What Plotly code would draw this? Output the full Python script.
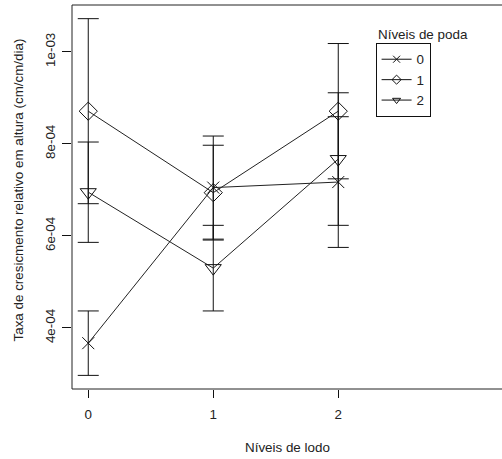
import plotly.graph_objects as go

# ---- data ----
lodo_levels = [0, 1, 2]
poda_labels = ["0", "1", "2"]
mean_poda0 = [3.67e-4, 7.05e-4, 7.17e-4]
err_poda0 = [0.70e-4, 1.12e-4, 1.42e-4]
mean_poda1 = [8.71e-4, 6.94e-4, 8.71e-4]
err_poda1 = [2.01e-4, 1.03e-4, 1.47e-4]
mean_poda2 = [6.95e-4, 5.30e-4, 7.67e-4]
err_poda2 = [1.09e-4, 0.93e-4, 1.44e-4]
y_tickvals = [4e-4, 6e-4, 8e-4, 1e-3]
y_ticktext = ["4e-04", "6e-04", "8e-04", "1e-03"]
x_tickvals = [0, 1, 2]
x_ticktext = ["0", "1", "2"]

series = [
    (poda_labels[0], mean_poda0, err_poda0, "x-thin-open", 12),
    (poda_labels[1], mean_poda1, err_poda1, "diamond-open", 14),
    (poda_labels[2], mean_poda2, err_poda2, "triangle-down-open", 14),
]

FONT = "Liberation Sans, Arial, sans-serif"
FS = 13.4
fig = go.Figure()
for name, m, e, sym, sz in series:
    fig.add_trace(go.Scatter(
        x=lodo_levels, y=m, mode="lines+markers", name=name, showlegend=False,
        line=dict(color="#222", width=1),
        marker=dict(symbol=sym, size=sz, color="#111", line=dict(color="#111", width=1)),
        error_y=dict(type="data", array=e, visible=True, color="#111", thickness=1, width=10.5),
    ))
# legend entries (small symbols like the reference)
for name, m, e, sym, sz in series:
    fig.add_trace(go.Scatter(
        x=[None], y=[None], mode="lines+markers", name=name,
        line=dict(color="#111", width=1),
        marker=dict(symbol=sym, size=7, color="#111", line=dict(color="#111", width=1)),
    ))

fig.update_layout(
    width=502, height=459,
    margin=dict(l=72, r=0, t=5, b=70),
    paper_bgcolor="white", plot_bgcolor="white",
    font=dict(family=FONT, size=FS, color="#222"),
    showlegend=True,
    legend=dict(x=0.706, y=0.901, xanchor="left", yanchor="top",
                bordercolor="#111", borderwidth=1, bgcolor="white",
                font=dict(size=FS), itemwidth=30, tracegroupgap=0),
    xaxis=dict(range=[-0.13, 3.31], tickvals=x_tickvals, ticktext=x_ticktext,
               showgrid=False, zeroline=False, showline=False,
               ticks="outside", ticklen=8, tickcolor="#111", tickwidth=1,
               ticklabelstandoff=5),
    yaxis=dict(range=[2.674e-4, 1.1017e-3], tickvals=y_tickvals, ticktext=y_ticktext,
               showgrid=False, zeroline=False, showline=False, tickangle=-90,
               ticks="outside", ticklen=9, tickcolor="#111", tickwidth=1,
               ticklabelstandoff=2),
    shapes=[dict(type="rect", xref="paper", yref="paper", x0=0, x1=1.05, y0=0, y1=1,
                 line=dict(color="#222", width=1))],
    annotations=[
        dict(text="Taxa de cresicmento relativo em altura (cm/cm/dia)", xref="paper", yref="paper",
             x=0, y=0.517, xshift=-54, textangle=-90, showarrow=False,
             xanchor="center", yanchor="middle", font=dict(size=FS)),
        dict(text="Níveis de lodo", xref="paper", yref="paper", x=0.5, y=0, yshift=-58,
             showarrow=False, xanchor="center", yanchor="middle", font=dict(size=FS)),
        dict(text="Níveis de poda", xref="paper", yref="paper", x=0.706, y=0.901, yshift=9,
             showarrow=False, xanchor="left", yanchor="middle", font=dict(size=FS)),
    ],
)
fig.write_html("out.html", config={"displayModeBar": False},
               post_script="document.body.style.margin='0';document.body.style.overflow='hidden';")
